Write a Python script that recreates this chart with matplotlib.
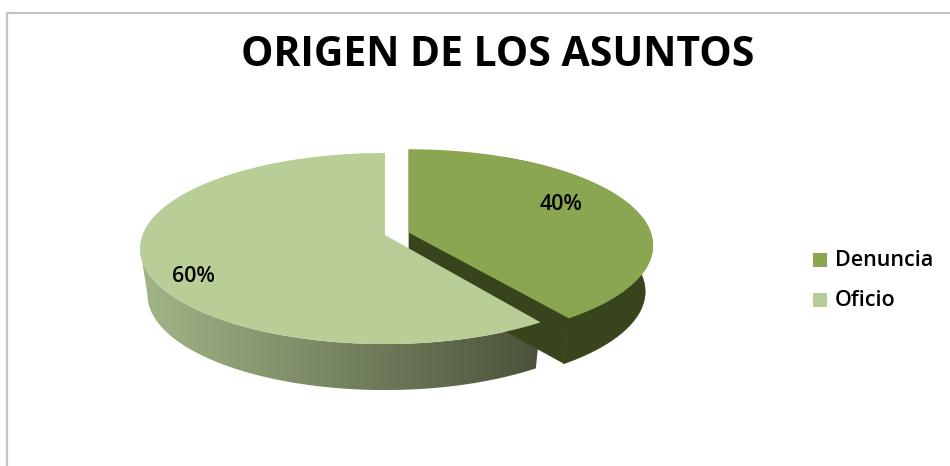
import numpy as np
import matplotlib
matplotlib.use('Agg')
import matplotlib.pyplot as plt
from matplotlib.colors import LinearSegmentedColormap
from matplotlib.patches import Polygon

title = 'ORIGEN DE LOS ASUNTOS'
categories = ['Denuncia', 'Oficio']
values = [40, 60]
colors = ['#8AA651', '#B9CD96']
side_dark = '#38451C'
side_grad = ['#A3B688', '#4A5239']

fig = plt.figure(figsize=(9.5, 4.66), dpi=100)
ax = fig.add_axes([0, 0, 1, 1])
ax.set_xlim(0, 950)
ax.set_ylim(466, 0)
ax.axis('off')


# circle -> screen, with a bit of perspective (near edge looks bigger)
def project(a, cx, cy, rx, r=1.0, depth=0):
    u = r * np.sin(a)
    v = r * np.cos(a)
    w = 1 + 0.1414 * v
    shrink = 0.97 if depth else 1.0
    return cx + shrink * rx * u / w, cy + (235 - 60.4 * v) / w - 235 + depth


def arc(a0, a1, cx, cy, rx, depth=0):
    a = np.linspace(a0, a1, 200)
    x, y = project(a, cx, cy, rx, depth=depth)
    return np.column_stack([x, y])


# the angles come from the values, clockwise from 12 o'clock
split = 2 * np.pi * values[0] / sum(values)
depth = 46

# Denuncia, moved right and a bit up
gx, gy, grx = 409, 232, 241
tip_g = project(0, gx, gy, grx, r=0)
tip_g_low = project(0, gx, gy, grx, r=0, depth=depth)
side = np.vstack([arc(0.45, split, gx, gy, grx), arc(split, 0.45, gx, gy, grx, depth)])
ax.add_patch(Polygon(side, fc=side_dark, ec=side_dark, lw=0.5))
cut = np.vstack([[tip_g], arc(split, split, gx, gy, grx)[:1], arc(split, split, gx, gy, grx, depth)[:1], [tip_g_low]])
ax.add_patch(Polygon(cut, fc=side_dark, ec=side_dark, lw=0.5))
top_g = np.vstack([[tip_g], arc(0, split, gx, gy, grx)])
ax.add_patch(Polygon(top_g, fc=colors[0], ec=colors[0], lw=1))

# Oficio, its corner sits a little further round in the picture
lx, ly, lrx = 385, 235, 242.5
start = split + 0.026
tip_l = project(0, lx, ly, lrx, r=0)
front_end = 3 * np.pi / 2 - 0.14
side = np.vstack([arc(start, front_end, lx, ly, lrx), arc(front_end, start, lx, ly, lrx, depth)])
band = Polygon(side, fc='none', ec='none')
ax.add_patch(band)
cmap = LinearSegmentedColormap.from_list('side', side_grad)
grad = ax.imshow(np.linspace(0, 1, 256).reshape(1, -1), cmap=cmap, aspect='auto', extent=(138, 542, 400, 240))
grad.set_clip_path(band)
top_l = np.vstack([[tip_l], arc(start, 2 * np.pi, lx, ly, lrx)])
ax.add_patch(Polygon(top_l, fc=colors[1], ec='none'))
ax.set_xlim(0, 950)
ax.set_ylim(466, 0)

# frame, only top and left show
ax.plot([7, 7, 950], [466, 13, 13], color='#C4C4C4', lw=1.6)

ax.text(498, 55, title, fontsize=29.4, fontweight='bold', family='Open Sans', ha='center', va='center', color='black')
ax.text(561, 204, '40%', fontsize=15.5, family='Open Sans', fontweight='semibold', ha='center', va='center')
ax.text(193, 276, '60%', fontsize=15.5, family='Open Sans', fontweight='semibold', ha='center', va='center')

legend_y = [259.5, 299.5]
for name, c, y in zip(categories, colors, legend_y):
    ax.scatter([819.5], [y], marker='s', s=105, color=c, linewidths=0)
    ax.text(835, y + 1.5, name, fontsize=15.5, family='Open Sans', fontweight='semibold', ha='left', va='center')

fig.savefig('out.png', dpi=100)
